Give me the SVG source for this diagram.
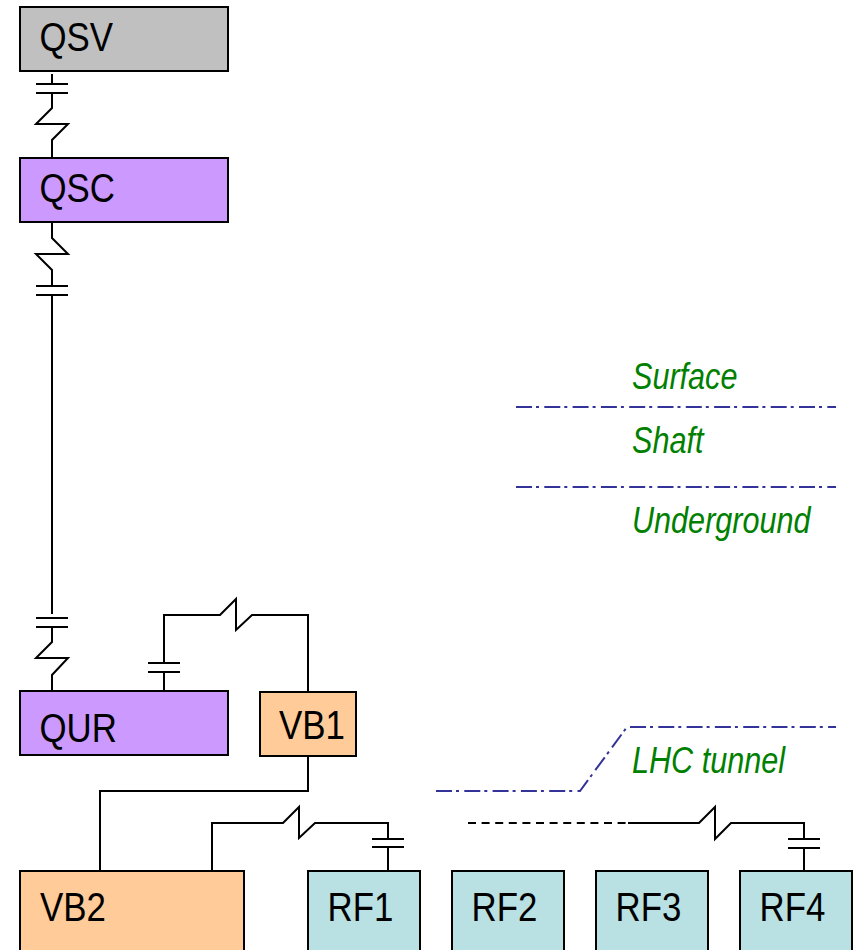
<svg xmlns="http://www.w3.org/2000/svg" width="858" height="950" viewBox="0 0 858 950">
<style>
.box{stroke:#000;stroke-width:2}
.lbl{font-family:"Liberation Sans",Arial,sans-serif;font-size:41px;fill:#000}
.zone{font-family:"Liberation Sans",Arial,sans-serif;font-size:36px;font-style:italic;fill:#008000}
.w{fill:none;stroke:#000;stroke-width:2}
.bound{fill:none;stroke:#333399;stroke-width:2;stroke-dasharray:16 4 3 5.3}
</style>
<rect width="858" height="950" fill="#fff"/>
<g id="connectors">
<path class="w" d="M52 74V84M36 84H68M36 93H68M52 93V108L36 124H68L52 140V158"/>
<path class="w" d="M52 222V238L68 254H36L52 270V286M36 286H68M36 295H68M52 295V614M36 618H68M36 627H68M52 627V642L36 658H68L52 675V691"/>
<path class="w" d="M164 691V672M148 672H180M148 663H180M164 663V615H220L236 599V630L252 615H308V692"/>
<path class="w" d="M308 756V791H100V871"/>
<path class="w" d="M212 871V823H283L299 807V838L315 823H388V839M372 839H404M372 847H404M388 847V871"/>
<path class="w" d="M468 823H628" stroke-dasharray="8 5.6"/>
<path class="w" d="M628 823H699L715 807V839L731 823H804V839M788 839H820M788 848H820M804 848V871"/>
</g>
<g id="boundaries">
<path class="bound" d="M516 407H836"/>
<path class="bound" d="M516 487H836"/>
<path class="bound" d="M436 791H580L627 727H836"/>
</g>
<g id="QSV"><rect class="box" x="20" y="7" width="208" height="64" fill="#c0c0c0"/><text class="lbl" x="39.5" y="51" textLength="73.6" lengthAdjust="spacingAndGlyphs">QSV</text></g>
<g id="QSC"><rect class="box" x="20" y="158" width="208" height="64" fill="#cc99ff"/><text class="lbl" x="39.5" y="202" textLength="75.5" lengthAdjust="spacingAndGlyphs">QSC</text></g>
<g id="QUR"><rect class="box" x="20" y="691" width="208" height="64" fill="#cc99ff"/><text class="lbl" x="39.5" y="742" textLength="77.4" lengthAdjust="spacingAndGlyphs">QUR</text></g>
<g id="VB1"><rect class="box" x="260" y="692" width="96" height="64" fill="#ffcc99"/><text class="lbl" x="279" y="739" textLength="65.9" lengthAdjust="spacingAndGlyphs">VB1</text></g>
<g id="VB2"><rect class="box" x="20" y="871" width="224" height="90" fill="#ffcc99"/><text class="lbl" x="40" y="921" textLength="65.9" lengthAdjust="spacingAndGlyphs">VB2</text></g>
<g id="RF1"><rect class="box" x="308" y="871" width="112" height="90" fill="#b9e0e3"/><text class="lbl" x="327.5" y="921" textLength="65.8" lengthAdjust="spacingAndGlyphs">RF1</text></g>
<g id="RF2"><rect class="box" x="452" y="871" width="112" height="90" fill="#b9e0e3"/><text class="lbl" x="471.5" y="921" textLength="65.8" lengthAdjust="spacingAndGlyphs">RF2</text></g>
<g id="RF3"><rect class="box" x="596" y="871" width="112" height="90" fill="#b9e0e3"/><text class="lbl" x="615.5" y="921" textLength="65.8" lengthAdjust="spacingAndGlyphs">RF3</text></g>
<g id="RF4"><rect class="box" x="740" y="871" width="112" height="90" fill="#b9e0e3"/><text class="lbl" x="759.5" y="921" textLength="65.8" lengthAdjust="spacingAndGlyphs">RF4</text></g>
<g id="zones">
<text class="zone" x="632" y="389" textLength="105.4" lengthAdjust="spacingAndGlyphs">Surface</text>
<text class="zone" x="632" y="453" textLength="71.5" lengthAdjust="spacingAndGlyphs">Shaft</text>
<text class="zone" x="632" y="533" textLength="178.6" lengthAdjust="spacingAndGlyphs">Underground</text>
<text class="zone" x="632" y="773" textLength="153" lengthAdjust="spacingAndGlyphs">LHC tunnel</text>
</g>
</svg>
